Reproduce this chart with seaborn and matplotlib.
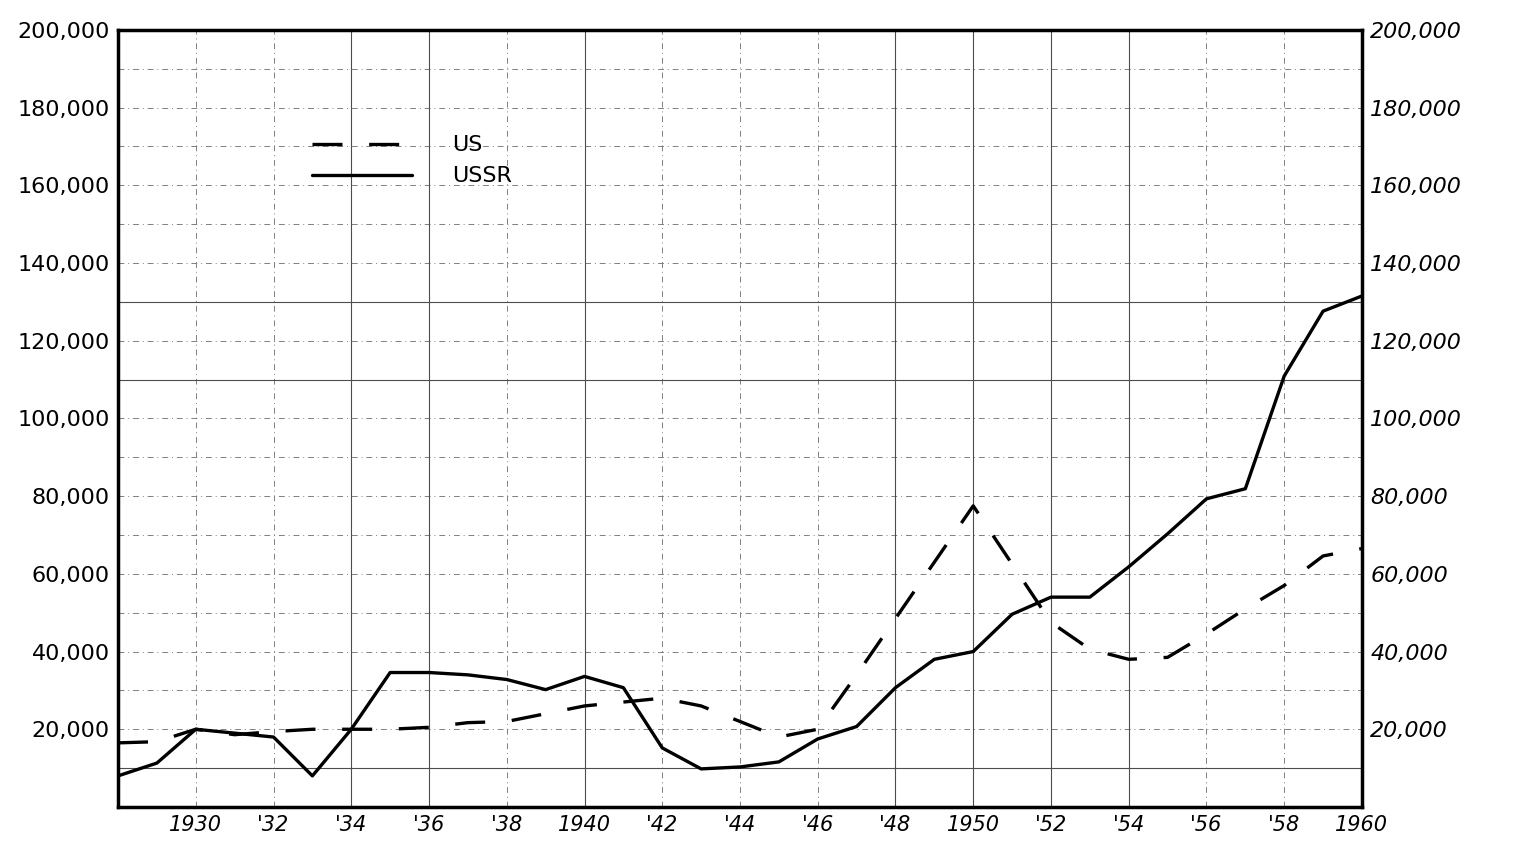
import pandas as pd
import seaborn as sns
import matplotlib.pyplot as plt
from matplotlib.ticker import MultipleLocator, FuncFormatter

years = list(range(1928, 1961))
us = [16500, 16800, 20000, 18600, 19400, 20000, 20000, 20000, 20500, 21700,
      22000, 24000, 26000, 27000, 28000, 26000, 22000, 18000, 20000, 34000,
      48500, 63000, 77500, 62500, 47500, 40600, 38000, 38500, 44500, 51000,
      57000, 64600, 66500]
ussr = [8000, 11300, 20000, 19000, 18000, 8000, 20000, 34600, 34600, 34000,
        32800, 30200, 33600, 30700, 15200, 9800, 10300, 11600, 17500, 20700,
        30700, 38000, 40000, 49600, 54000, 54000, 61800, 70300, 79300, 81900,
        110900, 127600, 131500]
year_ticks = [1930, 1932, 1934, 1936, 1938, 1940, 1942, 1944, 1946, 1948,
              1950, 1952, 1954, 1956, 1958, 1960]
year_labels = ['1930', "'32", "'34", "'36", "'38", '1940', "'42", "'44", "'46",
               "'48", '1950', "'52", "'54", "'56", "'58", '1960']

df = pd.DataFrame({'year': years * 2,
                   'value': us + ussr,
                   'country': ['US'] * len(years) + ['USSR'] * len(years)})

sns.set_style('white')
plt.rcParams['font.family'] = ['DejaVu Sans']
plt.rcParams['text.color'] = 'black'

fig = plt.figure(figsize=(15.17, 8.42), dpi=100)
ax = fig.add_axes([0.0778, 0.0416, 0.8200, 0.9230])

# 方格紙 (手繪的格線)
ax.xaxis.set_major_locator(MultipleLocator(2))
ax.yaxis.set_major_locator(MultipleLocator(20000))
ax.yaxis.set_minor_locator(MultipleLocator(10000))
ax.grid(True, which='both', color='0.5', linestyle=(0, (6, 4, 1, 4)), linewidth=0.7)
for v in [10000, 110000, 130000]:
    ax.axhline(v, color='0.3', linewidth=0.8)
for yr in [1934, 1936, 1940, 1948, 1950, 1952, 1954]:
    ax.axvline(yr, color='0.3', linewidth=0.8)
ax.set_axisbelow(True)

sns.lineplot(data=df, x='year', y='value', hue='country', style='country',
             palette={'US': 'black', 'USSR': 'black'},
             dashes={'US': (9, 8), 'USSR': ''}, linewidth=2.4, ax=ax)

ax.set_xlim(1928, 1960)
ax.set_ylim(0, 200000)
ax.set_xticks(year_ticks)
ax.set_xticklabels(year_labels, fontsize=15, style='italic')
ax.set_yticks(range(20000, 200001, 20000))
ax.yaxis.set_major_formatter(FuncFormatter(lambda v, p: f'{int(v):,}'))
ax.tick_params(axis='both', length=0, labelsize=16, pad=6, labelcolor='black')
ax.tick_params(axis='x', labelsize=15)
ax.tick_params(axis='y', labelright=True)
for t in ax.yaxis.get_major_ticks():
    t.label2.set_fontstyle('italic')
ax.set_xlabel('')
ax.set_ylabel('')

for s in ax.spines.values():
    s.set_visible(True)
    s.set_color('black')
    s.set_linewidth(2.5)

leg = ax.legend(title=None, loc='upper left', bbox_to_anchor=(0.14, 0.89),
                frameon=False, fontsize=16, handlelength=4.5,
                handletextpad=1.8, labelspacing=0.5)
for line in leg.get_lines():
    line.set_linewidth(2.4)

fig.savefig('out.png', dpi=100)
